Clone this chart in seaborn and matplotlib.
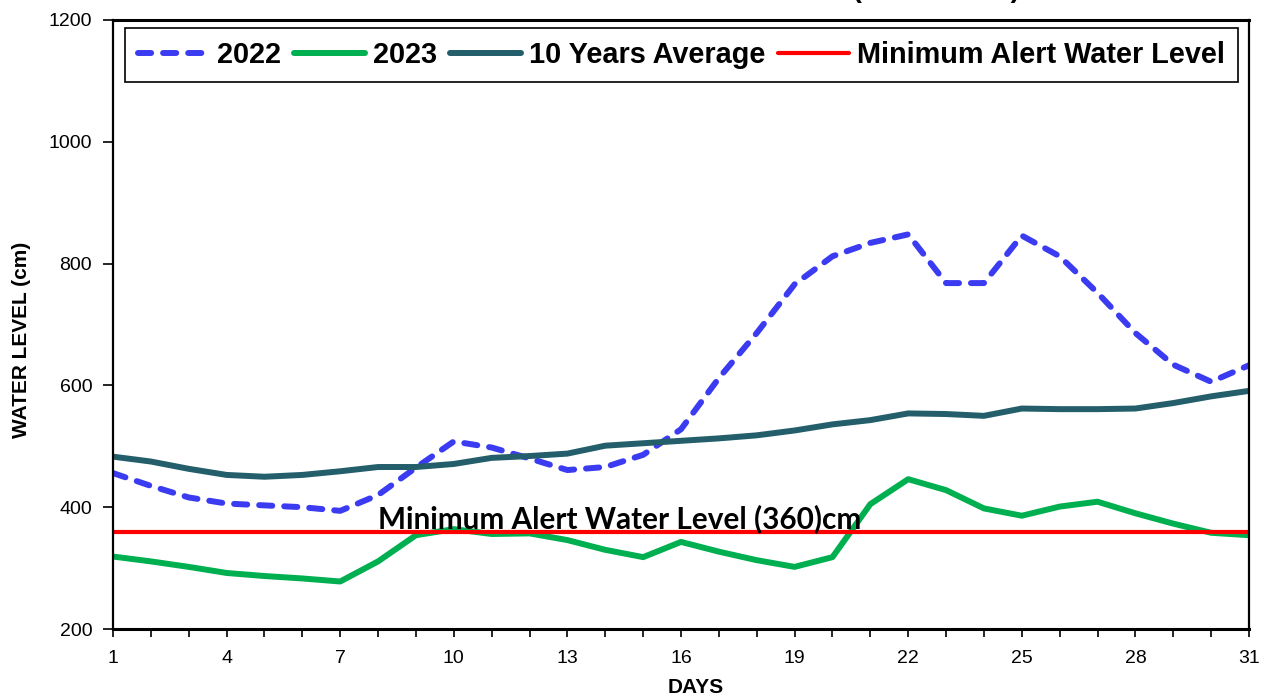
import matplotlib
matplotlib.use("Agg")
import matplotlib.pyplot as plt
from matplotlib.ticker import MultipleLocator
import seaborn as sns

# --- data ---
days = list(range(1, 32))
day_ticks = list(range(1, 32, 3))

level_2022 = [456, 435, 416, 406, 403, 400, 394, 420, 465, 508, 498, 480, 461, 466, 486,
              528, 612, 686, 766, 812, 834, 848, 768, 768, 846, 812, 752, 686, 634, 606, 633]

level_2023 = [319, 311, 302, 292, 287, 283, 278, 311, 354, 364, 356, 357, 346, 330, 318,
              343, 327, 313, 302, 318, 405, 446, 428, 398, 386, 401, 409, 390, 373, 358, 354]

avg_10yr = [483, 475, 463, 453, 450, 453, 459, 466, 466, 471, 481, 484, 488, 501, 505,
            509, 513, 518, 526, 536, 543, 554, 553, 550, 562, 561, 561, 562, 571, 582, 591]

alert_level = 360

sns.set_style("ticks")
plt.rcParams['font.family'] = ['Liberation Sans', 'DejaVu Sans']
plt.rcParams['text.color'] = 'black'
plt.rcParams['axes.labelcolor'] = 'black'
plt.rcParams['xtick.color'] = 'black'
plt.rcParams['ytick.color'] = 'black'

fig = plt.figure(figsize=(12.72, 7.0), dpi=100)
ax = fig.add_axes([113 / 1272, 71 / 700, 1136 / 1272, 609 / 700])

sns.lineplot(x=days, y=level_2022, ax=ax, color='#3B3BF2', lw=4.3,
             linestyle=(0, (2.2, 2.0)), dash_capstyle='round', label='2022')
sns.lineplot(x=days, y=level_2023, ax=ax, color='#00B050', lw=4.3,
             solid_capstyle='round', solid_joinstyle='round', label='2023')
sns.lineplot(x=days, y=avg_10yr, ax=ax, color='#245E6B', lw=4.3,
             solid_capstyle='round', solid_joinstyle='round', label='10 Years Average')
ax.axhline(alert_level, color='#FF0000', lw=3, label='Minimum Alert Water Level')

ax.text(8.0, 366, 'Minimum Alert Water Level (360)cm', family=['Lato', 'DejaVu Sans'],
        fontweight='bold', fontsize=21.4, color='black', va='baseline', ha='left')

ax.set_xlim(1, 31)
ax.set_ylim(200, 1200)
ax.set_xticks(day_ticks)
ax.xaxis.set_minor_locator(MultipleLocator(1))
ax.yaxis.set_major_locator(MultipleLocator(200))

ax.tick_params(axis='x', which='both', direction='out', length=6, width=1.2,
               labelsize=14, pad=9, color='black')
ax.tick_params(axis='y', direction='out', length=7, width=1.2, labelsize=14, pad=8,
               color='black')

for side in ['left', 'right']:
    ax.spines[side].set_linewidth(1.6)
for side in ['top', 'bottom']:
    ax.spines[side].set_linewidth(2.2)
for s in ax.spines.values():
    s.set_visible(True)
    s.set_color('black')

ax.set_xlabel('DAYS', fontsize=15, fontweight='bold')
ax.set_ylabel('WATER LEVEL (cm)', fontsize=15, fontweight='bold')
ax.xaxis.set_label_coords(0.513, -0.080)
ax.yaxis.set_label_coords(-0.072, 0.475)

leg = ax.legend(loc='upper left', bbox_to_anchor=(0.0106, 0.987), ncol=4,
                prop={'weight': 'bold', 'size': 20.8}, frameon=True, fancybox=False,
                framealpha=1, edgecolor='black', handlelength=2.45, handletextpad=0.28,
                columnspacing=0.45, borderpad=0.45, borderaxespad=0)
leg.get_frame().set_linewidth(1.2)

# title sits mostly above the visible area, as in the reference
fig.text(1020 / 1272, 1.004, 'DAILY WATER LEVEL (2022 - 2023)', ha='right', va='baseline',
         fontsize=20, fontweight='bold')

fig.savefig('out.png', dpi=100)
